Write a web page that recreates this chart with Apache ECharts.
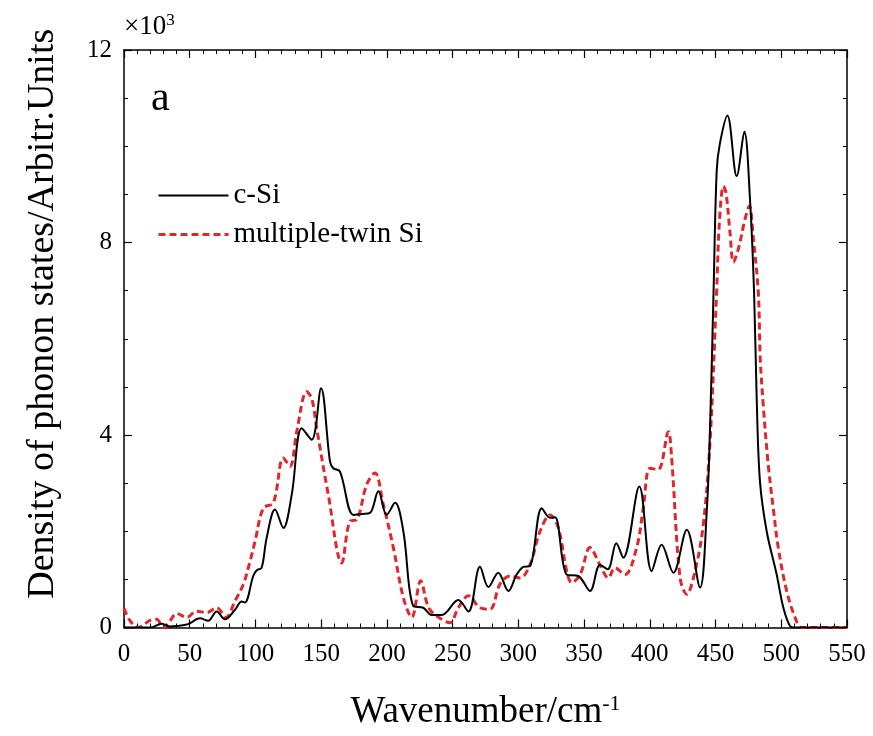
<!DOCTYPE html>
<html>
<head>
<meta charset="utf-8">
<script src="https://cdn.jsdelivr.net/npm/echarts@6/dist/echarts.min.js"></script>
<style>html,body{margin:0;padding:0;background:#fff;}#c{width:873px;height:736px;}</style>
</head>
<body>
<div id="c"></div>
<script>
// wavenumber (cm^-1), DOS (x10^3)
const cSi = [
[0,0],[10,0],[20,0],[28.7,0.08],[35,0.02],[40,0.03],[48.7,0.07],[57.8,0.19],[64,0.14],[70.5,0.33],
[76.8,0.17],[84.4,0.37],[89.5,0.54],[92,0.52],[98.3,1.07],[101,1.19],[104.7,1.24],[108.5,1.86],[114.9,2.45],[121.2,2.07],
[127.6,2.76],[135.2,4.14],[142.8,3.9],[149.9,4.97],[156.7,3.45],[159.2,3.31],[164.3,3.24],[174.5,2.34],[181,2.36],[187.1,2.38],
[193.5,2.83],[199.8,2.34],[206.2,2.59],[212.5,2.0],[220,0.45],[227.7,0.41],[234,0.26],[241.7,0.26],[254.3,0.57],[262,0.33],
[270.8,1.26],[277.2,0.84],[284.7,1.14],[292.4,0.76],[298.7,1.1],[303.8,1.26],[308.9,1.28],[317.8,2.48],[324.1,2.28],[327.9,2.29],
[336.8,1.1],[345.6,1.07],[354.5,0.76],[362.1,1.3],[368,1.21],[374.5,1.75],[379.8,1.45],[392,2.93],[401.4,1.17],[409,1.72],
[417.9,1.14],[428.1,2.03],[438.2,0.83],[443.3,2.41],[445.8,4.14],[448.5,7.0],[450.9,9.5],[453.4,10.07],[459,10.64],[466.1,9.38],
[471.9,10.3],[476.2,8.9],[479.3,6.97],[481.3,4.76],[483.8,3.03],[488.9,2.0],[496.5,1.1],[501.6,0.41],[506.6,0.03],[510,0],
[520,0],[550,0]
];
const twinSi = [
[0,0.4],[4.6,0.14],[10.9,0],[19.8,0.15],[24.9,0.17],[29.9,0],[35,0.14],[40.1,0.29],[47.7,0.21],[55.3,0.34],
[62.9,0.31],[70.5,0.41],[77.6,0.21],[84.4,0.55],[90.8,0.9],[95.9,1.38],[99.7,1.79],[106,2.48],[113.6,2.59],[121.2,3.52],
[126.3,3.35],[131.4,4.07],[139,4.9],[142.8,4.76],[146.6,4.14],[155.4,2.76],[165.6,1.34],[171.9,2.21],[177,2.24],[184.6,2.97],
[190.9,3.21],[197.3,2.55],[204.9,1.66],[212.5,0.62],[218.9,0.21],[225.7,0.97],[232,0.4],[241.7,0.17],[248,0.1],[254.3,0.41],
[262,0.66],[270.8,0.41],[278.4,0.38],[286,0.9],[293.6,1.07],[301.3,1.03],[308.9,1.31],[316.5,2.0],[324.1,2.34],[330.4,2.07],
[336.8,1.17],[340.6,0.93],[347,1.1],[354.5,1.66],[362.1,1.3],[368.4,1.03],[373.5,1.24],[381.1,1.1],[390,1.66],[395,2.48],
[400.1,3.31],[406.4,3.28],[414.1,4.07],[416.6,3.52],[423,1.03],[428.1,0.69],[434.4,1.17],[440.7,2.14],[445.8,3.86],[450.9,7.03],
[452.9,8.41],[456,9.17],[458,9.03],[461,8.21],[463.6,7.59],[467.3,7.86],[472.4,8.48],[475.7,8.76],[478.8,8.07],[482.5,6.97],
[484,5.6],[486.3,4.62],[490.1,3.38],[493.9,2.48],[497.7,1.66],[504.1,0.76],[510.5,0.21],[515.5,0],[530,0],[550,0]
];
const seriesNames = ['c-Si', 'multiple-twin Si'];
const xName = 'Wavenumber/cm';
const xNameSup = '-1';
const yName = 'Density of phonon states/Arbitr.Units';
const panelLabel = 'a';

const FONT = '"Liberation Serif", "DejaVu Serif", serif';
const RED = '#e3262b';
const chart = echarts.init(document.getElementById('c'), null, {renderer: 'canvas'});

function mkX(pos, showLabel) {
  return {
    type: 'value', position: pos, min: 0, max: 550, interval: 50,
    axisLine: {show: true, onZero: false, lineStyle: {color: '#000', width: 1.5}},
    axisTick: {show: true, inside: true, length: 8, lineStyle: {color: '#000', width: 1.2}},
    minorTick: {show: true, splitNumber: 5, length: 4, lineStyle: {color: '#000', width: 1}},
    axisLabel: {show: showLabel, fontFamily: FONT, fontSize: 25, color: '#000', margin: 14},
    splitLine: {show: false}, minorSplitLine: {show: false},
    name: showLabel ? '{a|' + xName + '}{b|' + xNameSup + '}' : '',
    nameLocation: 'middle', nameGap: 66,
    nameTextStyle: {rich: {
      a: {fontFamily: FONT, fontSize: 37, color: '#000'},
      b: {fontFamily: FONT, fontSize: 22, color: '#000', verticalAlign: 'top', padding: [0, 0, 16, 0]}
    }}
  };
}
function mkY(pos, showLabel) {
  return {
    type: 'value', position: pos, min: 0, max: 12, interval: 4,
    axisLine: {show: true, onZero: false, lineStyle: {color: '#000', width: 1.5}},
    axisTick: {show: true, inside: true, length: 8, lineStyle: {color: '#000', width: 1.2}},
    minorTick: {show: true, splitNumber: 4, length: 4, lineStyle: {color: '#000', width: 1}},
    axisLabel: {show: showLabel, fontFamily: FONT, fontSize: 25, color: '#000', margin: 12},
    splitLine: {show: false}, minorSplitLine: {show: false},
    name: showLabel ? yName : '', nameLocation: 'middle', nameGap: 62,
    nameTextStyle: {fontFamily: FONT, fontSize: 38, color: '#000', padding: [0, 0, 0, 50]}
  };
}

chart.setOption({
  backgroundColor: '#fff',
  animation: false,
  grid: {left: 124, right: 26, top: 50, bottom: 106},
  xAxis: [mkX('bottom', true), mkX('top', false)],
  yAxis: [mkY('left', true), mkY('right', false)],
  legend: {
    orient: 'vertical', left: 152, top: 176, itemWidth: 70, itemHeight: 14, itemGap: 10,
    textStyle: {fontFamily: FONT, fontSize: 29, color: '#000'},
    itemStyle: {opacity: 0, borderWidth: 0},
    data: [
      {name: seriesNames[0], lineStyle: {width: 2, color: '#000'}},
      {name: seriesNames[1], lineStyle: {width: 3, color: RED, type: [7, 4]}}
    ]
  },
  graphic: [
    {type: 'text', left: 124, top: 12, style: {
      text: '×10{s|3}', fontFamily: FONT, fontSize: 27, fill: '#000',
      rich: {s: {fontFamily: FONT, fontSize: 17, verticalAlign: 'top', padding: [0,0,12,0]}}
    }},
    {type: 'text', left: 151, top: 78, style: {text: panelLabel, fontFamily: FONT, fontSize: 42, fill: '#000'}}
  ],
  series: [
    {name: seriesNames[0], type: 'line', data: cSi, smooth: 0.35, symbol: 'none', showSymbol: false,
     xAxisIndex: 0, yAxisIndex: 0, lineStyle: {color: '#000', width: 2}, itemStyle: {color: '#000'}, z: 3},
    {name: seriesNames[1], type: 'line', data: twinSi, smooth: 0.35, symbol: 'none', showSymbol: false,
     xAxisIndex: 0, yAxisIndex: 0, lineStyle: {color: RED, width: 3, type: [7, 4]}, itemStyle: {color: RED}, z: 2}
  ]
});
</script>
</body>
</html>
